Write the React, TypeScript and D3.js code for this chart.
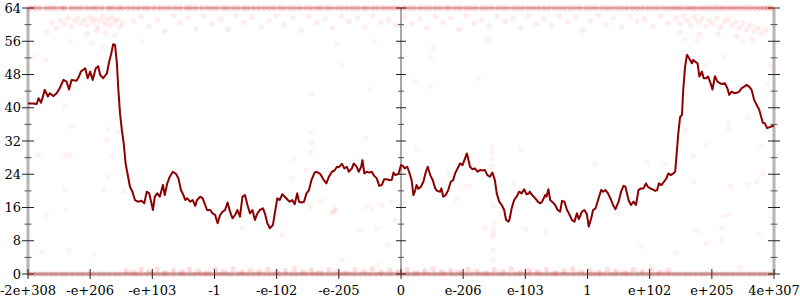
import React from "react";
import * as d3 from "d3";

// x positions are in "tick units": -6 .. 6, one unit per labelled tick
const xTickLabels = ["-2e+308", "-e+206", "-e+103", "-1", "-e-102", "-e-205", "0", "e-206", "e-103", "1", "e+102", "e+205", "4e+307"];
const yTicks = [0, 8, 16, 24, 32, 40, 48, 56, 64];

const lineData: [number, number][] = [
  [-6.00, 41.0], [-5.92, 41.0], [-5.86, 40.9], [-5.83, 42.3], [-5.79, 41.2], [-5.73, 44.3], [-5.68, 42.7], [-5.65, 43.5],
  [-5.59, 42.8], [-5.54, 43.5], [-5.49, 44.7], [-5.43, 46.7], [-5.38, 46.3], [-5.34, 44.4], [-5.30, 46.7], [-5.22, 46.5],
  [-5.18, 47.5], [-5.15, 48.7], [-5.08, 49.5], [-5.04, 47.1], [-5.00, 48.7], [-4.96, 46.7], [-4.91, 49.5], [-4.87, 50.0],
  [-4.84, 47.9], [-4.79, 47.1], [-4.73, 48.3], [-4.70, 50.7], [-4.66, 53.1], [-4.63, 55.3], [-4.60, 55.1], [-4.57, 50.7],
  [-4.55, 45.1], [-4.52, 38.7], [-4.49, 34.6], [-4.46, 31.4], [-4.43, 26.6], [-4.39, 23.4], [-4.36, 21.0], [-4.32, 19.8],
  [-4.28, 17.8], [-4.23, 17.4], [-4.17, 17.6], [-4.13, 17.0], [-4.09, 19.8], [-4.05, 19.4], [-3.99, 15.4], [-3.96, 18.6],
  [-3.92, 19.4], [-3.88, 18.6], [-3.83, 21.4], [-3.80, 19.0], [-3.76, 21.8], [-3.72, 23.4], [-3.67, 24.6], [-3.62, 24.1],
  [-3.58, 23.0], [-3.54, 20.2], [-3.50, 19.0], [-3.47, 17.8], [-3.44, 18.2], [-3.39, 17.4], [-3.35, 17.8], [-3.31, 16.4],
  [-3.28, 17.8], [-3.23, 18.6], [-3.19, 18.2], [-3.15, 16.6], [-3.12, 15.4], [-3.07, 15.4], [-3.03, 14.6], [-2.99, 14.2],
  [-2.95, 12.2], [-2.91, 14.2], [-2.87, 15.0], [-2.83, 15.4], [-2.79, 17.2], [-2.75, 15.0], [-2.71, 13.4], [-2.67, 14.2],
  [-2.63, 15.4], [-2.59, 13.8], [-2.55, 18.6], [-2.51, 19.0], [-2.47, 16.6], [-2.43, 14.6], [-2.39, 15.4], [-2.35, 13.0],
  [-2.31, 14.6], [-2.27, 15.4], [-2.22, 15.8], [-2.19, 14.6], [-2.15, 12.2], [-2.11, 11.0], [-2.06, 11.8], [-2.03, 14.6],
  [-1.99, 18.2], [-1.95, 17.8], [-1.91, 19.2], [-1.87, 18.6], [-1.82, 17.8], [-1.79, 17.4], [-1.75, 17.8], [-1.71, 16.8],
  [-1.67, 19.4], [-1.64, 17.4], [-1.60, 17.2], [-1.56, 17.4], [-1.52, 19.4], [-1.48, 20.2], [-1.44, 22.6], [-1.39, 24.4],
  [-1.36, 24.6], [-1.30, 24.1], [-1.25, 22.8], [-1.20, 21.8], [-1.16, 23.4], [-1.11, 24.6], [-1.07, 24.9], [-1.03, 25.8],
  [-1.00, 25.7], [-0.95, 26.5], [-0.91, 25.4], [-0.87, 25.8], [-0.84, 24.6], [-0.79, 25.4], [-0.76, 26.6], [-0.71, 25.7],
  [-0.68, 24.6], [-0.64, 25.8], [-0.62, 27.4], [-0.59, 24.2], [-0.55, 24.6], [-0.51, 24.4], [-0.47, 24.6], [-0.43, 23.6],
  [-0.39, 23.0], [-0.35, 21.2], [-0.31, 21.4], [-0.27, 22.8], [-0.23, 22.8], [-0.19, 22.6], [-0.15, 22.6], [-0.12, 24.4],
  [-0.09, 23.8], [-0.04, 24.1], [0.00, 26.2], [0.03, 26.0], [0.06, 25.4], [0.10, 25.8], [0.13, 24.6], [0.17, 22.6],
  [0.20, 19.0], [0.23, 20.2], [0.25, 21.4], [0.28, 20.5], [0.32, 21.0], [0.36, 22.2], [0.40, 24.6], [0.43, 25.8],
  [0.47, 23.8], [0.51, 22.6], [0.55, 20.6], [0.58, 20.0], [0.63, 19.8], [0.65, 20.6], [0.68, 18.6], [0.72, 19.0],
  [0.76, 20.2], [0.80, 22.2], [0.84, 22.6], [0.87, 24.2], [0.91, 25.4], [0.95, 26.6], [0.99, 26.2], [1.03, 27.8],
  [1.06, 29.0], [1.08, 27.8], [1.11, 25.8], [1.15, 25.2], [1.19, 25.4], [1.23, 24.6], [1.27, 25.0], [1.31, 24.9],
  [1.35, 25.0], [1.39, 23.8], [1.43, 23.4], [1.47, 24.4], [1.51, 22.6], [1.54, 19.4], [1.58, 17.4], [1.62, 16.6],
  [1.66, 15.4], [1.69, 13.0], [1.73, 12.6], [1.75, 13.4], [1.78, 15.8], [1.82, 17.8], [1.86, 18.6], [1.90, 19.8],
  [1.94, 19.4], [1.98, 20.4], [2.02, 19.2], [2.06, 19.4], [2.07, 19.8], [2.11, 19.0], [2.16, 18.2], [2.20, 17.4],
  [2.24, 17.0], [2.27, 17.4], [2.32, 19.0], [2.34, 18.6], [2.37, 20.4], [2.40, 17.8], [2.43, 17.4], [2.48, 16.6],
  [2.52, 15.4], [2.56, 15.0], [2.59, 17.6], [2.63, 17.4], [2.67, 15.4], [2.70, 14.6], [2.75, 13.0], [2.79, 12.6],
  [2.83, 14.6], [2.86, 13.2], [2.91, 15.0], [2.95, 15.4], [2.99, 14.4], [3.02, 11.4], [3.06, 13.4], [3.09, 15.4],
  [3.13, 15.8], [3.17, 17.8], [3.22, 20.2], [3.25, 19.8], [3.29, 20.2], [3.33, 19.4], [3.38, 17.8], [3.41, 16.6],
  [3.45, 15.6], [3.50, 17.4], [3.54, 19.8], [3.58, 21.2], [3.61, 21.0], [3.66, 17.8], [3.70, 16.6], [3.74, 17.4],
  [3.78, 16.6], [3.82, 20.2], [3.86, 20.6], [3.90, 20.6], [3.94, 21.8], [3.97, 21.0], [4.01, 20.6], [4.04, 20.4],
  [4.09, 20.0], [4.12, 20.2], [4.15, 21.8], [4.19, 21.4], [4.23, 22.2], [4.27, 23.0], [4.30, 24.2], [4.34, 23.8],
  [4.38, 24.2], [4.41, 24.6], [4.43, 28.2], [4.46, 33.8], [4.49, 37.8], [4.52, 38.3], [4.54, 44.3], [4.57, 49.9],
  [4.60, 52.7], [4.62, 52.3], [4.65, 51.5], [4.68, 50.7], [4.70, 51.5], [4.73, 51.1], [4.77, 50.7], [4.80, 47.5],
  [4.84, 48.7], [4.87, 47.1], [4.91, 47.1], [4.94, 47.5], [4.98, 45.9], [5.01, 44.4], [5.05, 47.6], [5.09, 46.3],
  [5.13, 45.9], [5.17, 45.7], [5.21, 45.9], [5.25, 44.7], [5.28, 43.1], [5.32, 43.9], [5.36, 43.5], [5.40, 43.6],
  [5.44, 43.9], [5.48, 44.7], [5.52, 45.1], [5.56, 45.5], [5.60, 45.1], [5.64, 44.3], [5.68, 41.9], [5.72, 40.7],
  [5.75, 39.9], [5.77, 39.1], [5.82, 36.4], [5.85, 36.3], [5.89, 35.1], [5.94, 35.4], [5.98, 35.6], [6.00, 35.6],
];

// points at the very top (value 64)
const topBandT = [-5.97, -5.9, -5.82, -5.71, -5.64, -5.56, -5.47, -5.41, -5.3, -5.22, -5.14, -5.05, -4.97, -4.9, -4.81, -4.71,
  -4.64, -4.55, -4.48, -4.39, -4.3, -4.22, -4.13, -4.06, -3.97, -3.88, -3.8, -3.72, -3.63, -3.55, -3.45, -3.38, -3.3, -3.21,
  -3.12, -3.04, -2.96, -2.86, -2.79, -2.7, -2.62, -2.53, -2.46, -2.37, -2.29, -2.2, -2.12, -2.04, -1.95, -1.87, -1.78, -1.7,
  -1.62, -1.53, -1.45, -1.36, -1.29, -1.2, -1.12, -1.03, -0.95, -0.87, -0.78, -0.7, -0.61, -0.54, -0.45, -0.37, -0.28, -0.2,
  -0.12, -0.04, 0.05, 0.13, 0.21, 0.3, 0.38, 0.46, 0.55, 0.63, 0.72, 0.79, 0.88, 0.96, 1.05, 1.13, 1.21, 1.3, 1.38, 1.46,
  1.55, 1.63, 1.71, 1.8, 1.88, 1.96, 2.05, 2.13, 2.21, 2.3, 2.38, 2.47, 2.55, 2.63, 2.72, 2.8, 2.88, 2.97, 3.05, 3.13, 3.22,
  3.3, 3.38, 3.47, 3.55, 3.63, 3.72, 3.8, 3.88, 3.97, 4.05, 4.13, 4.22, 4.3, 4.38, 4.45, 4.52, 4.6, 4.67, 4.74, 4.82, 4.89,
  4.96, 5.04, 5.11, 5.18, 5.26, 5.33, 5.4, 5.48, 5.55, 5.62, 5.7, 5.77, 5.84, 5.9, 5.96];

// points at the very bottom (value 0)
const bottomBandT = [-5.98, -5.89, -5.8, -5.72, -5.63, -5.55, -5.46, -5.38, -5.29, -5.2, -5.12, -5.03, -4.95, -4.86, -4.78,
  -4.69, -4.6, -4.52, -4.43, -4.35, -4.26, -4.18, -4.09, -4.0, -3.92, -3.83, -3.75, -3.66, -3.57, -3.49, -3.4, -3.32, -3.23,
  -3.15, -3.06, -2.97, -2.89, -2.8, -2.72, -2.63, -2.55, -2.46, -2.37, -2.29, -2.2, -2.12, -2.03, -1.95, -1.86, -1.77, -1.69,
  -1.6, -1.52, -1.43, -1.35, -1.26, -1.17, -1.09, -1.0, -0.92, -0.83, -0.75, -0.66, -0.57, -0.49, -0.4, -0.32, -0.23, -0.15,
  -0.06, 0.03, 0.11, 0.2, 0.28, 0.37, 0.45, 0.54, 0.63, 0.71, 0.8, 0.88, 0.97, 1.05, 1.14, 1.23, 1.31, 1.4, 1.48, 1.57, 1.65,
  1.74, 1.83, 1.91, 2.0, 2.08, 2.17, 2.25, 2.34, 2.43, 2.51, 2.6, 2.68, 2.77, 2.85, 2.94, 3.03, 3.11, 3.2, 3.28, 3.37, 3.45,
  3.54, 3.63, 3.71, 3.8, 3.88, 3.97, 4.05, 4.14, 4.23, 4.31, 4.4, 4.48, 4.57, 4.65, 4.74, 4.83, 4.91, 5.0, 5.08, 5.17, 5.25,
  5.34, 5.43, 5.51, 5.6, 5.68, 5.77, 5.85, 5.94];

// fuzzy band just above zero in the middle range
const bottomFuzz: [number, number][] = [
  [-4.42, 0.8], [-4.3, 0.4], [-4.18, 1.1], [-4.05, 0.6], [-3.92, 1.2], [-3.8, 0.3], [-3.66, 0.9], [-3.52, 0.5], [-3.4, 1.1],
  [-3.26, 0.7], [-3.12, 0.3], [-2.98, 1.0], [-2.85, 0.6], [-2.7, 1.2], [-2.56, 0.4], [-2.42, 0.9], [-2.28, 0.6], [-2.14, 1.1],
  [-2.0, 0.3], [-1.86, 0.8], [-1.72, 1.2], [-1.58, 0.5], [-1.44, 0.9], [-1.3, 0.4], [-1.16, 1.1], [-1.02, 0.7], [-0.88, 0.3],
  [-0.74, 1.0], [-0.6, 0.6], [-0.46, 1.2], [-0.32, 0.4], [-0.18, 0.9], [-0.04, 0.6], [0.1, 1.1], [0.24, 0.3], [0.38, 0.8],
  [0.52, 1.2], [0.66, 0.5], [0.8, 0.9], [0.94, 0.4], [1.08, 1.1], [1.22, 0.7], [1.36, 0.3], [1.5, 1.0], [1.64, 0.6],
  [1.78, 1.2], [1.92, 0.4], [2.06, 0.9], [2.2, 0.6], [2.34, 1.1], [2.48, 0.3], [2.62, 0.8], [2.76, 1.2], [2.9, 0.5],
  [3.04, 0.9], [3.18, 0.4], [3.32, 1.1], [3.46, 0.7], [3.6, 0.3], [3.74, 1.0], [3.88, 0.6], [4.02, 1.2], [4.16, 0.4], [4.3, 0.9],
];

// cluster of points just below the top
const topCluster: [number, number][] = [
  [-5.62, 60.5], [-5.55, 59.2], [-5.48, 61.0], [-5.42, 60.0], [-5.36, 61.5], [-5.3, 59.6], [-5.25, 60.8], [-5.2, 61.6],
  [-5.15, 60.2], [-5.1, 61.2], [-5.05, 59.8], [-5.0, 61.8], [-4.96, 60.6], [-4.92, 61.4], [-4.88, 59.4], [-4.84, 60.9],
  [-4.8, 61.9], [-4.76, 60.3], [-4.72, 61.3], [-4.68, 59.9], [-4.64, 61.7], [-4.6, 60.7], [-4.56, 61.2], [-4.52, 59.5],
  [-4.48, 60.4], [-5.7, 58.2], [-5.05, 57.8], [-4.9, 58.6], [-4.75, 58.0], [-4.6, 57.4],
  [-4.3, 60.8], [-4.18, 62.0], [-4.05, 59.6], [-3.92, 61.2], [-3.8, 58.4], [-3.66, 62.2], [-3.55, 60.5], [-3.42, 61.6],
  [-3.3, 59.0], [-3.18, 62.0], [-3.05, 60.2], [-2.9, 61.4], [-2.78, 58.8], [-2.65, 62.2], [-2.52, 60.6], [-2.4, 61.8],
  [-2.25, 59.4], [-2.12, 61.0], [-2.0, 62.2], [-1.88, 60.0], [-1.74, 61.6], [-1.6, 58.6], [-1.48, 62.0], [-1.35, 60.4],
  [-1.22, 61.4], [-1.1, 59.2], [-0.96, 62.0], [-0.84, 60.8], [-0.7, 61.6], [-0.58, 59.4], [-0.45, 62.2], [-0.32, 60.6],
  [-0.2, 61.2], [-0.08, 59.8],
  [0.06, 61.8], [0.18, 60.2], [0.3, 61.4], [0.42, 59.2], [0.55, 62.0], [0.68, 60.6], [0.8, 61.6], [0.93, 58.8],
  [1.05, 62.2], [1.18, 60.4], [1.3, 61.2], [1.42, 59.6], [1.55, 62.0], [1.68, 60.8], [1.8, 61.6], [1.92, 59.0],
  [2.05, 62.2], [2.18, 60.2], [2.3, 61.4], [2.42, 59.8], [2.55, 62.0], [2.68, 60.6], [2.8, 61.8], [2.92, 58.6],
  [3.05, 61.0], [3.18, 62.2], [3.3, 60.0], [3.42, 61.6], [3.55, 59.4], [3.68, 62.0], [3.8, 60.8], [3.92, 61.4],
  [4.05, 59.6], [4.18, 62.0], [4.3, 60.4],
  [4.42, 61.6], [4.48, 60.2], [4.54, 62.0], [4.6, 61.0], [4.66, 59.8], [4.72, 61.8], [4.78, 60.6], [4.84, 61.4],
  [4.9, 59.6], [4.96, 61.0], [5.02, 60.2], [5.08, 61.6], [5.14, 59.4], [5.2, 60.8], [5.26, 61.2], [5.32, 59.8],
  [5.38, 60.6], [5.44, 59.2], [5.5, 60.4], [5.56, 58.8], [5.62, 59.8], [5.68, 58.4], [5.74, 59.2], [5.8, 57.8],
  [5.86, 58.6], [4.5, 58.2], [4.8, 57.6], [5.1, 57.8], [5.4, 57.2], [5.65, 56.6],
];

// scattered points across the plot
const sparsePoints: [number, number][] = [
  [-5.70, 14.2], [-5.39, 15.4], [-5.78, 5.4], [-5.34, 5.6], [-4.94, 4.7], [-5.40, 40.4], [-5.30, 35.4], [-5.83, 28.6],
  [-5.40, 28.6], [-5.32, 28.6], [-4.71, 34.8], [-4.73, 32.4], [-4.66, 28.4], [-4.71, 23.4], [-5.40, 20.2], [-4.78, 20.4],
  [-4.45, 20.0], [-4.55, 34.2], [-5.71, 51.5], [-4.17, 55.9], [-5.89, 52.3], [-4.98, 55.5], [-4.81, 54.7], [-5.32, 55.9],
  [-2.56, 11.1], [-1.45, 34.0], [-1.44, 31.6], [-1.45, 29.4], [-1.73, 27.8], [-1.52, 25.0], [-1.75, 23.0], [-0.57, 32.7],
  [-1.30, 17.6], [-1.06, 15.4], [-1.11, 14.7], [-1.46, 16.2], [-0.55, 16.2], [-0.47, 15.4], [-0.31, 16.6], [-0.16, 17.4],
  [-0.09, 12.8], [-0.66, 10.4], [-0.39, 10.8], [-1.91, 9.4], [0.25, 30.1], [1.47, 30.6], [1.46, 29.2], [1.46, 27.6],
  [1.47, 26.0], [1.93, 30.0], [0.76, 24.2], [1.03, 21.0], [1.11, 21.2], [0.88, 18.0], [1.82, 22.0], [1.48, 16.4],
  [1.50, 12.3], [1.48, 10.8], [1.48, 9.1], [1.35, 11.0], [2.01, 10.8], [3.12, 26.5], [3.95, 27.0], [2.22, 18.2],
  [2.33, 10.3], [3.50, 14.6], [4.57, 56.3], [4.54, 48.3], [4.25, 26.5], [4.70, 28.4], [4.91, 31.0], [4.58, 34.5],
  [5.28, 34.8], [5.26, 36.3], [5.57, 37.7], [5.80, 30.8], [5.82, 24.2], [5.59, 21.4], [5.30, 21.0], [4.71, 22.2],
  [5.17, 13.8], [5.26, 14.4], [5.20, 52.3], [4.91, 50.3], [5.89, 45.9], [5.95, 49.9], [5.50, 55.9], [4.76, 56.3],
  [5.72, 22.2], [-1.09, 15.0], [-1.05, 15.6], [-0.22, 7.1], [-0.95, 3.4], [-0.38, 2.2], [1.48, 5.8], [1.48, 3.4],
  [1.48, 9.8], [3.86, 6.6], [4.42, 5.1], [4.76, 10.4], [4.91, 7.4], [5.16, 11.0], [5.16, 8.2], [5.75, 9.6],
  [5.95, 13.6], [5.95, 3.2], [5.45, 1.4], [-1.44, 43.3], [-1.03, 55.5], [-0.95, 50.3], [-0.49, 44.4], [-0.43, 55.9],
  [0.23, 46.4], [0.47, 45.1], [0.48, 51.9], [0.51, 54.3], [1.24, 47.1], [1.40, 56.3],
];

const W = 800;
const H = 300;
const FONT = "'DejaVu Serif', serif";

export default function App() {
  const x = d3.scaleLinear().domain([-6, 6]).range([28, 774]);
  const y = d3.scaleLinear().domain([0, 64]).range([274, 8]);
  const line = d3.line<[number, number]>().x((d) => x(d[0])).y((d) => y(d[1]));

  const xTicks = d3.range(-6, 7);
  const minorY = d3.range(4, 64, 8);
  const axisXs = [x(-6), x(0), x(6)];

  const dot = (key: string, t: number, v: number, fo: number, r = 2.8) => (
    <circle key={key} cx={x(t)} cy={y(v)} r={r} fill="#ff0000" fillOpacity={fo} stroke="none" />
  );

  return (
    <svg width={W} height={H} style={{ position: "absolute", left: 0, top: 0, background: "#fff" }} fontFamily={FONT}>
      {/* frame lines */}
      <line x1={x(-6)} x2={x(6)} y1={y(64)} y2={y(64)} stroke="#999" strokeWidth={1} />
      <line x1={x(-6)} x2={x(6)} y1={y(0)} y2={y(0)} stroke="#b5b5b5" strokeWidth={3} />
      <line x1={x(-6)} x2={x(-6)} y1={y(0)} y2={y(64)} stroke="#b5b5b5" strokeWidth={3} />
      <line x1={x(6)} x2={x(6)} y1={y(0)} y2={y(64)} stroke="#b5b5b5" strokeWidth={3} />
      <line x1={x(0)} x2={x(0)} y1={y(0)} y2={y(64)} stroke="#555" strokeWidth={1} />

      {/* y ticks on the three vertical axes */}
      {axisXs.map((ax, i) => {
        const big = i === 1 ? 5 : 6;
        const small = i === 1 ? 3 : 3.5;
        return (
          <g key={"ax" + i}>
            {yTicks.map((v) => (
              <line key={"M" + v} x1={ax - big} x2={ax + big} y1={y(v)} y2={y(v)} stroke="#222" strokeWidth={1} />
            ))}
            {minorY.map((v) => (
              <line key={"m" + v} x1={ax - small} x2={ax + small} y1={y(v)} y2={y(v)} stroke="#555" strokeWidth={1} />
            ))}
          </g>
        );
      })}

      {/* x ticks */}
      {xTicks.map((t) => (
        <line key={"xt" + t} x1={x(t)} x2={x(t)} y1={y(0) - 5} y2={y(0) + 5} stroke="#222" strokeWidth={1} />
      ))}

      {/* points */}
      <g>
        {topBandT.map((t, i) => dot("tb" + i, t, 64, 0.22))}
        {bottomBandT.map((t, i) => dot("bb" + i, t, 0, 0.2))}
        {bottomFuzz.map((p, i) => dot("bf" + i, p[0], p[1], 0.12))}
        {topCluster.map((p, i) => dot("tc" + i, p[0], p[1], 0.07))}
        {sparsePoints.map((p, i) => dot("sp" + i, p[0], p[1], 0.05))}
      </g>

      {/* line */}
      <path d={line(lineData) || ""} fill="none" stroke="#8b0000" strokeWidth={2} strokeLinejoin="round" />

      {/* labels */}
      {yTicks.map((v) => (
        <text key={"yl" + v} x={21} y={y(v)} dy="0.35em" textAnchor="end" fontSize={13} fill="#000">
          {v}
        </text>
      ))}
      {xTicks.map((t, i) => (
        <text key={"xl" + t} x={x(t)} y={295} textAnchor="middle" fontSize={13} fill="#000">
          {xTickLabels[i]}
        </text>
      ))}
    </svg>
  );
}
